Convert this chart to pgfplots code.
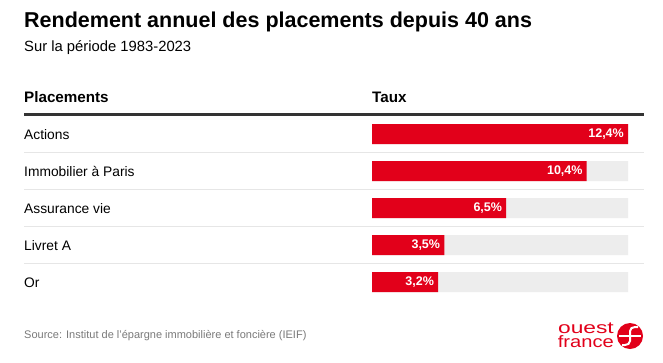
\documentclass[border=0pt]{standalone}
\usepackage{pgfplots}
\pgfplotsset{compat=1.18}
\usepackage{pgfplotstable}
\usepackage{fontspec}
\setmainfont{Liberation Sans}
\definecolor{ofred}{HTML}{E2001A}
\definecolor{trackgray}{HTML}{EDEDED}
\definecolor{sepgray}{HTML}{E6E6E6}
\definecolor{hdr}{HTML}{333333}
\definecolor{srcgray}{HTML}{7A7A7A}
\pgfplotstableread{
row val
0 12.4
1 10.4
2 6.5
3 3.5
4 3.2
}\rendement
\pgfplotstableread{
row val
0 12.4
1 12.4
2 12.4
3 12.4
4 12.4
}\track
\begin{document}
\begin{tikzpicture}[x=1pt,y=1pt]
\fill[white] (0,0) rectangle (663,-362);
\node[anchor=base west, inner sep=0pt, font=\fontsize{21.5}{24}\selectfont\bfseries] at (24,-27.5) {Rendement annuel des placements depuis 40 ans};
\node[anchor=base west, inner sep=0pt, font=\fontsize{14.8}{17}\selectfont] at (24,-51.7) {Sur la période 1983-2023};
\node[anchor=base west, inner sep=0pt, font=\fontsize{15.2}{17}\selectfont\bfseries] at (24,-102) {Placements};
\node[anchor=base west, inner sep=0pt, font=\fontsize{15.2}{17}\selectfont\bfseries] at (372,-102) {Taux};
\draw[hdr, line width=2.5pt] (24,-114.5) -- (644,-114.5);
\foreach \yy in {152.3,189.3,226.3,263.3} {\draw[sepgray, line width=1pt] (24,-\yy) -- (644,-\yy);}
\foreach \lab [count=\i from 0] in {Actions,Immobilier à Paris,Assurance vie,Livret A,Or} {
  \node[anchor=base west, inner sep=0pt, font=\fontsize{13.8}{16}\selectfont] at (24,{-139-37*\i}) {\lab};
}
\node[anchor=base west, inner sep=0pt, text=srcgray, font=\fontsize{11}{12}\selectfont] at (24,-338.7) {Source: Institut de l'épargne immobilière et foncière (IEIF)};
% logo
\node[anchor=south east, inner sep=0pt, text=ofred, align=right, font=\fontsize{16.5}{14.5}\selectfont] at (614,-348)
  {\scalebox{1.38}[1]{ouest}\\\scalebox{1.22}[1]{france}};
\fill[ofred] (630,-336) circle (13);
\draw[white, line width=2pt] (619,-336) -- (641,-336);
\draw[white, line width=2pt] (630,-336) -- (630,-331) to[out=90,in=180] (635,-327) -- (638,-327);
\draw[white, line width=2pt] (630,-336) -- (630,-341) to[out=-90,in=0] (625,-345) -- (622,-345);
\begin{axis}[at={(372pt,-115.5pt)}, anchor=north west, scale only axis, width=256pt, height=185pt,
  xmin=0, xmax=12.4, ymin=-0.5, ymax=4.5, y dir=reverse, hide axis, clip=false,
  xbar, bar width=20pt, bar shift=0pt]
\addplot[fill=trackgray, draw=none] table[x=val,y=row]{\track};
\addplot[fill=ofred, draw=none, point meta=x,
  nodes near coords={\pgfmathprintnumber[fixed,fixed zerofill,precision=1,use comma,assume math mode=true]{\pgfplotspointmeta}\%},
  every node near coord/.append style={anchor=east, text=white, font=\fontsize{12.5}{14}\selectfont\bfseries, inner sep=0pt, xshift=-4pt}]
  table[x=val,y=row]{\rendement};
\end{axis}
\end{tikzpicture}
\end{document}
